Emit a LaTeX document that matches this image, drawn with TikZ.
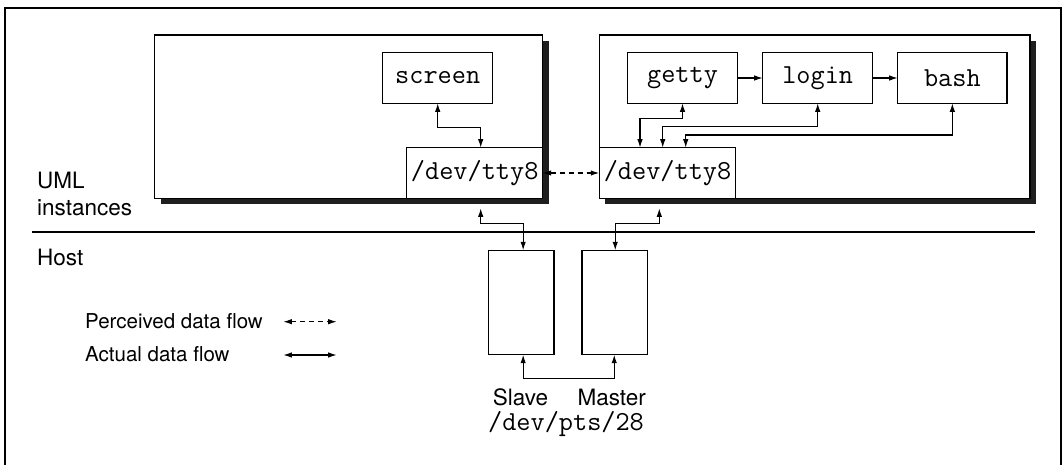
\documentclass[tikz,border=0pt]{standalone}
\usepackage{fontspec}
\setmainfont{TeX Gyre Heros}
\usetikzlibrary{arrows.meta}
\tikzset{
  box/.style={draw, line width=1.2pt, fill=white, inner sep=0pt, outer sep=0pt, anchor=north west},
  shadowbox/.style={fill=black!88, draw=none, inner sep=0pt, outer sep=0pt, anchor=north west},
  proc/.style={box, font=\fontsize{27.5}{30}\ttfamily},
  conn/.style={line width=1.2pt, {Latex[length=8.5pt,width=5.5pt]}-{Latex[length=8.5pt,width=5.5pt]}},
  perc/.style={conn, dash pattern=on 5pt off 4pt},
  lbl/.style={font=\fontsize{22.5}{27}\selectfont, inner sep=0pt, anchor=base west},
  leg/.style={font=\fontsize{20.5}{24}\selectfont, inner sep=0pt, anchor=base west},
  lblc/.style={font=\fontsize{22.5}{27}\selectfont, inner sep=0pt, anchor=base},
  monolbl/.style={font=\fontsize{27.5}{30}\ttfamily, inner sep=0pt, anchor=base},
}
\begin{document}
\begin{tikzpicture}[x=1pt,y=-1pt]
\useasboundingbox (0,0) rectangle (1064,465);
% outer frame
\draw[line width=2.3pt] (5,480) -- (5,8) -- (1061,8) -- (1061,480);
% separator
\draw[line width=2pt] (32,232) -- (1035,232);

% left UML instance
\node[shadowbox, minimum width=388pt, minimum height=163.3pt] (sh1) at (160.7,41) {};
\node[box, minimum width=388pt, minimum height=163.3pt] (uml1) at (154.7,35) {};
\node[proc, minimum width=110pt, minimum height=50.6pt] (screen) at (382.7,52.7) {screen};
\node[proc, minimum width=136pt, minimum height=50.6pt] (tty1) at (406.7,147.7) {/dev/tty8};

% right UML instance
\node[shadowbox, minimum width=430.7pt, minimum height=163.3pt] (sh2) at (605.3,41) {};
\node[box, minimum width=430.7pt, minimum height=163.3pt] (uml2) at (599.3,35) {};
\node[proc, minimum width=109.6pt, minimum height=50.6pt] (getty) at (627.7,52.7) {getty};
\node[proc, minimum width=110pt, minimum height=50.6pt] (login) at (762.7,52.7) {login};
\node[proc, minimum width=109.3pt, minimum height=50.6pt] (bash) at (897.7,52.7) {bash};
\node[proc, minimum width=136.4pt, minimum height=50.6pt] (tty2) at (599.3,147.7) {/dev/tty8};

% host pts
\node[box, minimum width=65.7pt, minimum height=104.4pt] (slave) at (488.3,250.3) {};
\node[box, minimum width=65.3pt, minimum height=104.4pt] (master) at (582,250.3) {};

% labels
\node[lbl] (umllbl) at (37,188.3) {UML};
\node[lbl] (instlbl) at (37,215) {instances};
\node[lbl] (hostlbl) at (37,265.7) {Host};
\node[leg] (perclbl) at (85,328.3) {Perceived data flow};
\node[leg] (actlbl) at (85,361.7) {Actual data flow};
\node[lblc] (slavelbl) at (520.5,405.7) {Slave};
\node[lblc] (masterlbl) at (611.7,405.7) {Master};
\node[monolbl] (ptslbl) at (566,430) {/dev/pts/28};

% connectors in left instance
\draw[conn] (screen.south) -- ++(0,24) -| ([xshift=6pt]tty1.north);
% right instance
\draw[line width=1.2pt, -{Latex[length=8.5pt,width=5.5pt]}] (getty.east) -- (login.west);
\draw[line width=1.2pt, -{Latex[length=8.5pt,width=5.5pt]}] (login.east) -- (bash.west);
\draw[conn] (getty.south) -- ++(0,15.4) -| ([xshift=-27.5pt]tty2.north);
\draw[conn] (login.south) -- ++(0,23.4) -| ([xshift=-4.8pt]tty2.north);
\draw[conn] (bash.south) -- ++(0,31.7) -| ([xshift=18.2pt]tty2.north);
% perceived
\draw[perc] (tty1.east) -- (tty2.west);
% to host
\coordinate (t1b) at (480.7,208.3);
\coordinate (t2b) at (659.3,208.3);
\draw[conn] (t1b) -- ++(0,15) -| ([xshift=2pt]slave.north);
\draw[conn] (t2b) -- ++(0,15) -| ([xshift=0.6pt]master.north);
\draw[conn] ([xshift=2pt]slave.south) -- ++(0,23.6) -| ([xshift=-0.4pt]master.south);

% legend
\coordinate (lp1) at (283.3,321.7);
\coordinate (lp2) at (336.7,321.7);
\coordinate (la1) at (283.3,355);
\coordinate (la2) at (336.7,355);
\draw[perc] (lp1) -- (lp2);
\draw[conn] (la1) -- (la2);
\end{tikzpicture}
\end{document}
